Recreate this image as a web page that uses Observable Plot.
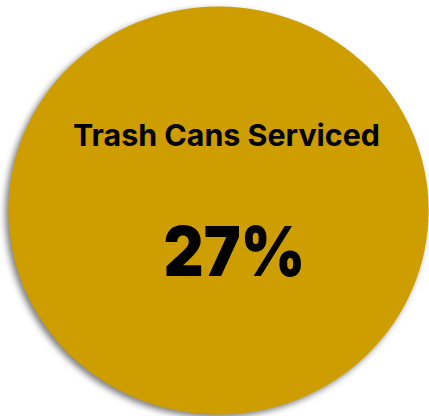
<!DOCTYPE html>
<html>
<head>
<meta charset="utf-8">
<script src="https://cdn.jsdelivr.net/npm/d3@7"></script>
<script src="https://cdn.jsdelivr.net/npm/@observablehq/plot@0.6"></script>
<style>
  html, body { margin: 0; padding: 0; background: #fff; overflow: hidden; }
  #chart svg { display: block; overflow: visible; }
</style>
</head>
<body>
<div id="chart"></div>
<script>
const labels = ["Trash Cans Serviced"];
const values = [27];

const rows = labels.map((label, i) => ({label, value: values[i]}));

const plot = Plot.plot({
  width: 429,
  height: 416,
  marginLeft: 8,
  marginRight: 1,
  marginTop: 6,
  marginBottom: 2,
  style: {background: "transparent", overflow: "visible"},
  marks: [
    Plot.dot(rows, {frameAnchor: "middle", r: 206, fill: "#CE9E00", stroke: "none", className: "disc"}),
    Plot.text(rows, {
      frameAnchor: "middle", text: "label", dx: 8, dy: -65, lineAnchor: "bottom",
      fontSize: 30, fontWeight: 700, fill: "#000",
      fontFamily: "Inter, 'Open Sans', sans-serif", className: "title"
    }),
    Plot.text(rows, {
      frameAnchor: "middle", text: d => `${d.value}%`, dx: 16, dy: 65, lineAnchor: "bottom",
      fontSize: 69, fontWeight: 900, fill: "#000",
      fontFamily: "Inter, 'Open Sans', sans-serif", className: "num"
    })
  ]
});
document.getElementById("chart").appendChild(plot);

const svg = d3.select(plot);
// slight ellipse (about the disc centre) and drop shadow
svg.selectAll(".disc circle").each(function() {
  const c = d3.select(this);
  const bb = this.getBBox();
  const cx = bb.x + bb.width / 2, cy = bb.y + bb.height / 2;
  c.attr("transform", `translate(${cx},${cy}) scale(1.02,0.99) translate(${-cx},${-cy})`);
  c.style("filter", "drop-shadow(-3px 3px 3px rgba(0,0,0,0.5))");
});
svg.selectAll(".title text").attr("textLength", 307).attr("lengthAdjust", "spacingAndGlyphs");
svg.selectAll(".num text").attr("textLength", 142).attr("lengthAdjust", "spacingAndGlyphs");
</script>
</body>
</html>
